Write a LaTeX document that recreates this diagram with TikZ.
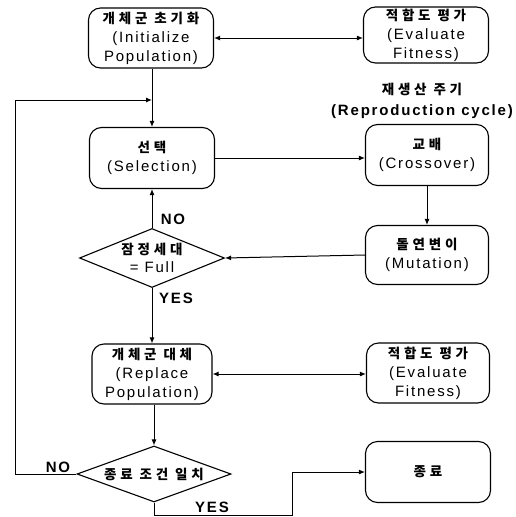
\documentclass[tikz,border=0pt]{standalone}
\usepackage{fontspec}
\setmainfont{Liberation Sans}[LetterSpace=12]
\newfontfamily\kr{Noto Sans CJK KR}[LetterSpace=28]
\usetikzlibrary{shapes.geometric,arrows.meta}
\tikzset {boite/.style 2 args={draw, rounded corners=12pt, line width=1.1pt,
            align=center, inner sep=0pt, minimum width=#1, minimum height=#2,
            font=\fontsize{15}{19}\selectfont},
          losange/.style 2 args={draw, diamond, line width=1.1pt, inner sep=0pt,
            minimum width=#1, minimum height=#2},
          texte/.style={align=center, inner sep=0pt, font=\fontsize{15}{18}\selectfont},
          etiquette/.style={inner sep=0pt, font=\fontsize{15}{18}\selectfont\bfseries},
          fleche/.style={line width=1pt, -{Latex[length=6pt,width=5pt]}},
          doublefleche/.style={line width=1pt, {Latex[length=6pt,width=5pt]}-{Latex[length=6pt,width=5pt]}}}
\newcommand{\ko}[1]{{\kr\bfseries\fontsize{13.5}{19}\selectfont #1}}

\begin{document}
\begin{tikzpicture}[x=1pt,y=-1pt]
  \useasboundingbox (0,0) rectangle (515,517);
  \node [boite={125pt}{60pt}] (init) at (151,38) {\ko{개체군 초기화}\\(Initialize\\Population)};
  \node [boite={125pt}{56pt}] (eval1) at (426,35) {\ko{적합도 평가}\\(Evaluate\\Fitness)};
  \node [boite={125pt}{61pt}] (selection) at (152,158) {\ko{선택}\\(Selection)};
  \node [boite={123pt}{61pt}] (croisement) at (427,155) {\ko{교배}\\(Crossover)};
  \node [boite={123pt}{59pt}] (mutation) at (427,255) {\ko{돌연변이}\\(Mutation)};
  \node [losange={145pt}{59pt}] (plein) at (152,258) {};
  \node [texte] (pleintxt) at (152,258) {\ko{잠정세대}\\= Full};
  \node [boite={120pt}{60pt}] (remplace) at (152,374) {\ko{개체군 대체}\\(Replace\\Population)};
  \node [boite={123pt}{60pt}] (eval2) at (428,373) {\ko{적합도 평가}\\(Evaluate\\Fitness)};
  \node [losange={154pt}{56pt}] (arret) at (154,474) {};
  \node [texte] (arrettxt) at (154,474) {\ko{종료 조건 일치}};
  \node [boite={125pt}{61pt}] (fin) at (428,472) {\ko{종료}};
  \node [texte] (cycle) at (422,89) {\ko{재생산 주기}};
  \node [texte, font=\fontsize{15}{18}\selectfont\bfseries] (cycleen) at (422,112) {(Reproduction cycle)};
  \coordinate (retour) at (152,100);
  \coordinate (coin) at (15,474);
  \coordinate (detour) at (292,515);
  \draw [doublefleche] (init.east) -- (init.east -| eval1.west);
  \draw [fleche] (init.south -| retour) -- (selection.north);
  \draw [fleche] (arret.west) -- (coin) |- (retour);
  \draw [fleche] (selection.east) -- (selection.east -| croisement.west);
  \draw [fleche] (croisement.south) -- (mutation.north);
  \draw [fleche] (mutation.west) -- (plein.east);
  \draw [fleche] (plein.north) -- (selection.south);
  \draw [fleche] (plein.south) -- (remplace.north);
  \draw [doublefleche] (remplace.east) -- (remplace.east -| eval2.west);
  \draw [fleche] (remplace.south -| arret) -- (arret.north);
  \draw [fleche] (arret.south) |- (detour) |- (fin.west);
  \node [etiquette] (non1) at (173,219) {NO};
  \node [etiquette] (oui1) at (176,298) {YES};
  \node [etiquette] (non2) at (58,467) {NO};
  \node [etiquette] (oui2) at (212,507) {YES};
\end{tikzpicture}
\end{document}
